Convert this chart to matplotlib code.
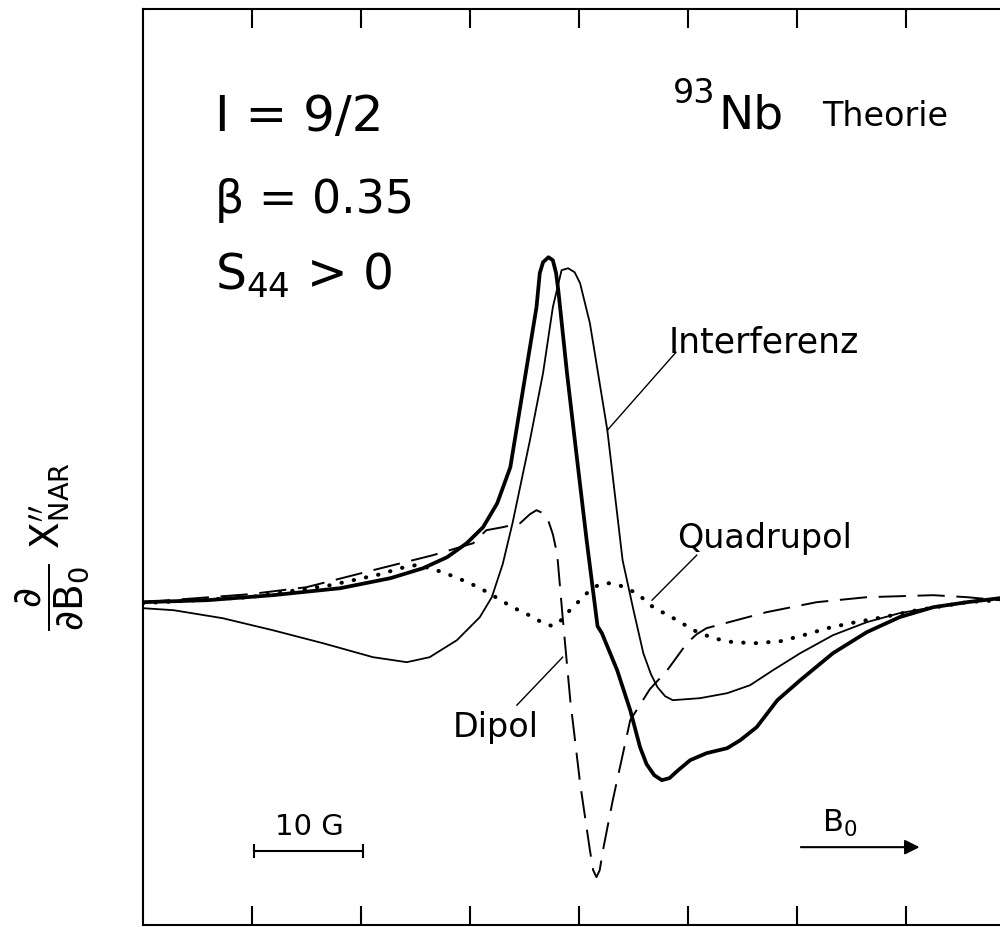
"""Theoretical NAR derivative line shapes for 93Nb: dipole, quadrupole and interference parts."""
import numpy as np
import matplotlib
matplotlib.use("Agg")
import matplotlib.pyplot as plt

# field offset in G, signal in arbitrary units
total_b = [0, 0.59, 1.19, 1.81, 2.27, 2.57, 2.79, 2.97, 3.12, 3.25, 3.37, 3.43, 3.52, 3.61,
           3.64, 3.67, 3.72, 3.76, 3.79, 3.81, 3.89, 3.98, 4.07, 4.17, 4.21, 4.35, 4.47,
           4.56, 4.62, 4.69, 4.76, 4.83, 4.90, 5.02, 5.17, 5.36, 5.48, 5.63, 5.82, 6.03,
           6.33, 6.64, 6.94, 7.25, 7.56, 7.86, 8.0]
total_s = [0.02, 0.04, 0.09, 0.16, 0.26, 0.36, 0.47, 0.61, 0.77, 1.01, 1.37, 1.77, 2.37, 2.97,
           3.31, 3.42, 3.47, 3.44, 3.31, 3.14, 2.31, 1.47, 0.64, -0.22, -0.29, -0.66, -1.06,
           -1.43, -1.60, -1.71, -1.76, -1.74, -1.67, -1.56, -1.49, -1.44, -1.36, -1.23, -0.96,
           -0.76, -0.49, -0.28, -0.13, -0.03, 0.02, 0.06, 0.06]

interf_b = [0, 0.28, 0.73, 1.19, 1.65, 2.11, 2.42, 2.63, 2.88, 3.09, 3.20, 3.30, 3.39, 3.55,
            3.67, 3.76, 3.84, 3.90, 3.96, 4.01, 4.10, 4.26, 4.40, 4.50, 4.59, 4.66, 4.72,
            4.79, 4.86, 5.11, 5.36, 5.57, 5.78, 6.03, 6.33, 6.64, 6.94, 7.25, 7.56, 7.86, 8.0]
interf_s = [-0.04, -0.06, -0.14, -0.26, -0.39, -0.53, -0.58, -0.53, -0.36, -0.13, 0.07, 0.40,
            0.81, 1.64, 2.31, 2.97, 3.34, 3.36, 3.32, 3.21, 2.81, 1.74, 0.44, -0.06, -0.49,
            -0.70, -0.83, -0.92, -0.96, -0.94, -0.89, -0.81, -0.66, -0.49, -0.31, -0.18,
            -0.09, -0.03, 0.02, 0.06, 0.06]

dipol_b = [0, 0.98, 1.50, 2.11, 2.66, 3.03, 3.15, 3.30, 3.46, 3.55, 3.61, 3.67, 3.72, 3.76,
           3.80, 3.85, 3.92, 4.01, 4.10, 4.13, 4.16, 4.19, 4.22, 4.31, 4.47, 4.65, 4.81,
           4.99, 5.08, 5.17, 5.41, 5.72, 6.18, 6.64, 7.25, 7.56, 7.86, 8.0]
dipol_s = [0.02, 0.10, 0.17, 0.34, 0.49, 0.61, 0.74, 0.77, 0.81, 0.90, 0.94, 0.91, 0.83, 0.70,
           0.50, -0.13, -0.96, -1.79, -2.46, -2.66, -2.73, -2.66, -2.46, -1.96, -1.16, -0.85,
           -0.66, -0.39, -0.30, -0.24, -0.17, -0.08, 0.02, 0.07, 0.09, 0.07, 0.04, 0.04]

quad_b = [0, 0.98, 1.72, 2.18, 2.36, 2.50, 2.64, 2.82, 3.00, 3.16, 3.39, 3.58, 3.67, 3.76,
          3.82, 3.89, 4.10, 4.19, 4.28, 4.37, 4.53, 4.68, 4.90, 5.05, 5.23, 5.41, 5.63, 5.85,
          6.06, 6.28, 6.49, 6.79, 7.10, 7.56, 7.86]
quad_s = [0.01, 0.07, 0.19, 0.30, 0.36, 0.39, 0.36, 0.29, 0.21, 0.12, -0.03, -0.13, -0.19,
          -0.22, -0.18, -0.09, 0.14, 0.20, 0.21, 0.19, 0.11, -0.03, -0.16, -0.26, -0.34, -0.38,
          -0.39, -0.37, -0.31, -0.24, -0.19, -0.13, -0.06, 0.02, 0.04]

fig = plt.figure(figsize=(10, 9.27), dpi=100)
ax = fig.add_axes([0.143, 0.002, 0.872, 0.988])

ax.plot(total_b, total_s, color="black", lw=2.7, solid_capstyle="round", solid_joinstyle="round")
ax.plot(interf_b, interf_s, color="black", lw=1.3, solid_joinstyle="round")
ax.plot(dipol_b, dipol_s, color="black", lw=1.4, linestyle=(0, (14, 6)))
ax.plot(quad_b, quad_s, color="black", lw=2.9, linestyle=(0, (0.1, 3.0)),
        dash_capstyle="round")

ax.set_xlim(0, 8)
ax.set_ylim(-3.21, 5.95)
ax.set_xticks(range(1, 8))
ax.set_yticks([])
ax.tick_params(axis="x", direction="in", length=14, width=1.5, top=True, bottom=True,
               labelbottom=False, labeltop=False)
for side in ("left", "top", "bottom"):
    ax.spines[side].set_linewidth(1.5)
ax.spines["right"].set_visible(False)

# parameter block
ax.text(0.66, 4.73, "I = 9/2", fontsize=36, va="baseline")
ax.text(0.66, 3.91, "β = 0.35", fontsize=33, va="baseline")
ax.text(0.66, 3.14, "S$_{44}$ > 0", fontsize=35, va="baseline")

ax.text(4.86, 5.01, "93", fontsize=24, va="baseline")
ax.text(5.28, 4.76, "Nb", fontsize=34, va="baseline")
ax.text(6.23, 4.78, "Theorie", fontsize=24, va="baseline")

# curve labels with leader lines
ax.text(4.82, 2.52, "Interferenz", fontsize=25, va="baseline")
ax.plot([4.26, 4.89], [1.74, 2.52], color="black", lw=1.0)
ax.text(4.90, 0.56, "Quadrupol", fontsize=24, va="baseline")
ax.plot([4.67, 5.08], [0.04, 0.49], color="black", lw=1.0)
ax.text(2.84, -1.33, "Dipol", fontsize=24, va="baseline")
ax.plot([3.43, 3.85], [-1.01, -0.53], color="black", lw=1.0)

# 10 G scale bar
ax.text(1.53, -2.31, "10 G", fontsize=21, ha="center", va="baseline")
ax.plot([1.02, 2.02], [-2.47, -2.47], color="black", lw=1.5)
ax.plot([1.02, 1.02], [-2.53, -2.41], color="black", lw=1.5)
ax.plot([2.02, 2.02], [-2.53, -2.41], color="black", lw=1.5)

# field direction
ax.text(6.23, -2.28, "B$_0$", fontsize=22, va="baseline")
ax.annotate("", xy=(7.15, -2.43), xytext=(6.01, -2.43),
            arrowprops=dict(arrowstyle="-|>", color="black", lw=1.5, mutation_scale=22))

fig.text(0.052, 0.41,
         r"$\dfrac{\partial}{\partial \mathrm{B}_0}\ \mathrm{X}^{\prime\prime}_{\mathrm{NAR}}$",
         fontsize=28, rotation=90, ha="center", va="center")

fig.savefig("out.png", dpi=100)
